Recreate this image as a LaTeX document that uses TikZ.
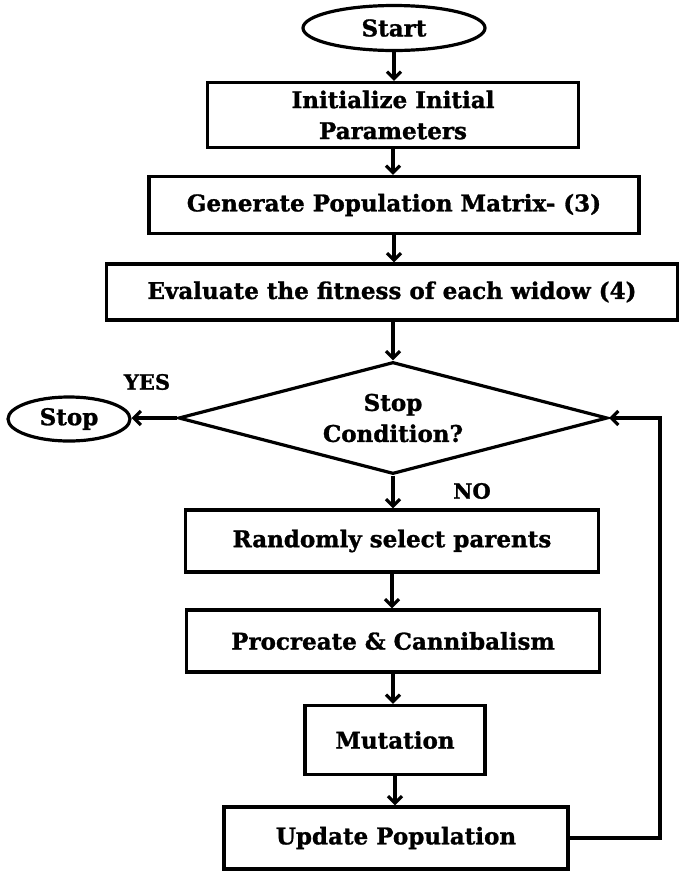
\documentclass[tikz,border=0pt]{standalone}
\usepackage{fontspec}
\setmainfont{DejaVu Serif}[BoldFeatures={FakeBold=1.2}]
\usetikzlibrary{shapes.geometric,arrows.meta}
\begin{document}
\begin{tikzpicture}[x=1pt,y=-1pt,
  every node/.style={font=\bfseries\fontsize{23}{31}\selectfont, align=center, inner sep=0pt},
  stepbox/.style={draw, line width=3.2pt, rectangle},
  term/.style={draw, line width=3.2pt, ellipse},
  decision/.style={draw, line width=3.2pt, diamond, aspect=3.83},
  flow/.style={line width=3.2pt, -{Straight Barb[length=7pt,width=14pt,line width=3.2pt]}},
  lbl/.style={font=\bfseries\fontsize{21}{24}\selectfont}]
\useasboundingbox (0,0) rectangle (680,871);

\node[term, minimum width=182pt, minimum height=45pt] (start) at (394,28) {Start};
\node[stepbox, minimum width=371pt, minimum height=65pt] (init) at (393,115) {Initialize Initial\\Parameters};
\node[stepbox, minimum width=490pt, minimum height=57pt] (gen) at (394,205) {Generate Population Matrix- (3)};
\node[stepbox, minimum width=571pt, minimum height=56pt] (eval) at (392,292) {Evaluate the fitness of each widow (4)};
\node[decision, minimum width=429pt, minimum height=112pt] (cond) at (393,418) {Stop\\Condition?};
\node[term, minimum width=122pt, minimum height=44pt] (stop) at (69,419) {Stop};
\node[stepbox, minimum width=413pt, minimum height=62pt] (sel) at (392,541) {Randomly select parents};
\node[stepbox, minimum width=413pt, minimum height=62pt] (proc) at (393,641) {Procreate \& Cannibalism};
\node[stepbox, minimum width=180pt, minimum height=69pt] (mut) at (395,740) {Mutation};
\node[stepbox, minimum width=344pt, minimum height=62pt] (upd) at (396,838) {Update Population};

\node[lbl] (yes) at (147,382) {YES};
\node[lbl] (no) at (472,491) {NO};

\coordinate (loopA) at (660,838);
\coordinate (loopB) at (660,418);

\draw[flow] (start.south) -- (start.south |- init.north);
\draw[flow] (init.south) -- (init.south |- gen.north);
\draw[flow] (gen.south) -- (gen.south |- eval.north);
\draw[flow] (eval.south -| cond.north) -- (cond.north);
\draw[flow] (cond.west) -- (cond.west -| stop.east);
\draw[flow] (cond.south) -- (cond.south |- sel.north);
\draw[flow] (sel.south) -- (sel.south |- proc.north);
\draw[flow] (proc.south) -- (proc.south |- mut.north);
\draw[flow] (mut.south) -- (mut.south |- upd.north);
\draw[flow] (upd.east) -- (loopA) -- (loopB) -- (cond.east);
\end{tikzpicture}
\end{document}
